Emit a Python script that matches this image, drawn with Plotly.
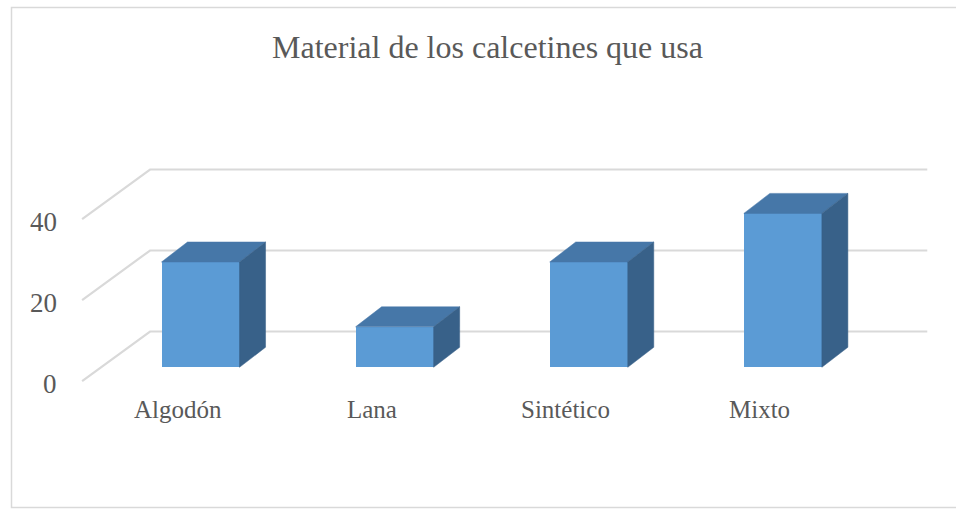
import plotly.graph_objects as go

# ---- data ----
categories = ["Algodón", "Lana", "Sintético", "Mixto"]
values = [26, 10, 26, 38]
y_ticks = [0, 20, 40]
y_tick_labels = ["0", "20", "40"]
title_text = "Material de los calcetines que usa"

# ---- style / geometry (data-unit space) ----
FRONT = "#5B9BD5"
TOP = "#4677A8"
SIDE = "#386189"
GRID = "#D9D9D9"
TEXT = "#595959"
FONT = "Liberation Serif, Times New Roman, serif"

W, H = 956, 509
bar_w = 0.402
dx, dy = 0.134, 4.94          # depth offset of a bar
g_front_x, g_back_x, g_end_x = -0.610, -0.260, 3.744
g_front_dy, g_back_dy = -3.4, 8.84

x_range = [-1.033, 3.892]
y_range = [-34.99, 90.69]

idx = list(range(len(categories)))

fig = go.Figure()

# front faces
fig.add_trace(go.Bar(x=idx, y=values, width=bar_w,
                     marker=dict(color=FRONT, line=dict(width=0)),
                     hoverinfo="skip", showlegend=False))

# top and side faces
for i, v in zip(idx, values):
    xl, xr = i - bar_w / 2, i + bar_w / 2
    fig.add_trace(go.Scatter(
        x=[xl, xr, xr + dx, xl + dx, xl],
        y=[v, v, v + dy, v + dy, v],
        mode="lines", fill="toself", fillcolor=TOP,
        line=dict(color=TOP, width=0.5), hoverinfo="skip", showlegend=False))
    fig.add_trace(go.Scatter(
        x=[xr, xr, xr + dx, xr + dx, xr],
        y=[0, v, v + dy, dy, 0],
        mode="lines", fill="toself", fillcolor=SIDE,
        line=dict(color=SIDE, width=0.5), hoverinfo="skip", showlegend=False))

shapes = []
annotations = []
# gridlines (side wall + back wall) and y tick labels
for t, lab in zip(y_ticks, y_tick_labels):
    shapes.append(dict(type="path", layer="below", xref="x", yref="y",
                       path=f"M {g_front_x},{t + g_front_dy} L {g_back_x},{t + g_back_dy} L {g_end_x},{t + g_back_dy}",
                       line=dict(color=GRID, width=2.2)))
    annotations.append(dict(x=-0.727, y=t - 4.05, xref="x", yref="y",
                            text=lab, showarrow=False, xanchor="right", yanchor="middle",
                            font=dict(family=FONT, size=27, color=TEXT)))

# category labels
for i, c in zip(idx, categories):
    annotations.append(dict(x=i - 0.1185, y=-10.5, xref="x", yref="y",
                            text=c, showarrow=False, xanchor="center", yanchor="middle",
                            font=dict(family=FONT, size=25, color=TEXT)))

# title
annotations.append(dict(x=487 / W, y=1 - 47.5 / H, xref="paper", yref="paper",
                        text=title_text, showarrow=False, xanchor="center", yanchor="middle",
                        font=dict(family=FONT, size=32, color=TEXT)))

# chart border
shapes.append(dict(type="rect", xref="paper", yref="paper",
                   x0=11.5 / W, x1=1.003, y0=1 - 507.5 / H, y1=1 - 7.5 / H,
                   line=dict(color=GRID, width=1.5), layer="below"))

fig.update_layout(
    width=W, height=H, autosize=False,
    margin=dict(l=0, r=0, t=0, b=0, pad=0),
    paper_bgcolor="white", plot_bgcolor="white",
    xaxis=dict(range=x_range, visible=False, fixedrange=True),
    yaxis=dict(range=y_range, visible=False, fixedrange=True),
    shapes=shapes, annotations=annotations,
    bargap=0, showlegend=False,
)

fig.write_html("out.html")
